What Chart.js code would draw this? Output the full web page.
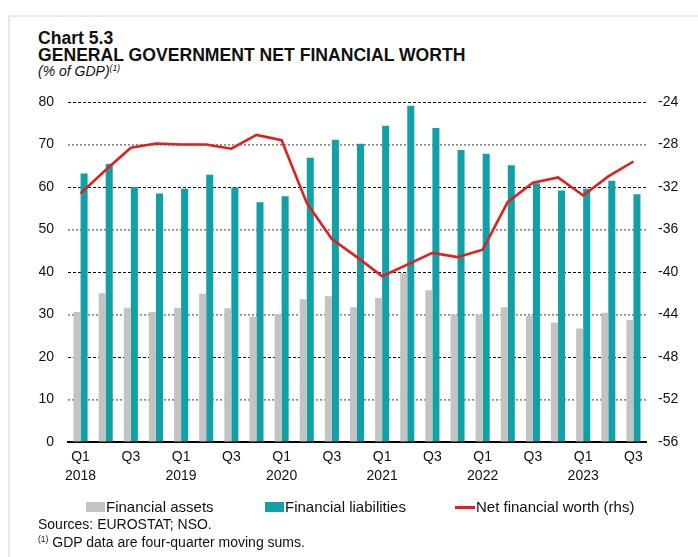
<!DOCTYPE html>
<html>
<head>
<meta charset="utf-8">
<script src="https://cdn.jsdelivr.net/npm/chart.js@4/dist/chart.umd.min.js"></script>
<style>
  html, body { margin: 0; padding: 0; background: #fff; }
  body { width: 698px; height: 557px; position: relative; overflow: hidden;
         font-family: "Liberation Sans", Arial, sans-serif; color: #111; }
  .frame { position: absolute; left: 8px; top: 15px; right: -4px; bottom: -4px;
           border-top: 2px solid #e8e8e8; border-left: 2px solid #e8e8e8; }
  #chart { position: absolute; left: 0; top: 0; }
  .title { position: absolute; left: 38px; font-weight: bold; font-size: 17.6px; line-height: 17px; }
  .sub { position: absolute; left: 38px; top: 63px; font-style: italic; font-size: 14px; }
  .sub sup, .note sup { font-size: 8.5px; vertical-align: 5px; }
  .legend { position: absolute; top: 498px; font-size: 15px; line-height: 18px; white-space: nowrap; }
  .swatch { position: absolute; }
  .src { position: absolute; left: 38px; font-size: 14px; white-space: nowrap; }
</style>
</head>
<body>
<div class="frame"></div>
<div class="title" style="top:30px">Chart 5.3</div>
<div class="title" style="top:47px">GENERAL GOVERNMENT NET FINANCIAL WORTH</div>
<div class="sub">(% of GDP)<sup>(1)</sup></div>
<canvas id="chart" width="698" height="557"></canvas>

<div class="swatch" style="left:86px;top:502px;width:19px;height:10px;background:#c3c3c3"></div>
<div class="legend" style="left:106px">Financial assets</div>
<div class="swatch" style="left:265px;top:502px;width:19px;height:10px;background:#11a0a6"></div>
<div class="legend" style="left:285px">Financial liabilities</div>
<div class="swatch" style="left:455px;top:506px;width:20px;height:3px;background:#e41e1e"></div>
<div class="legend" style="left:476px">Net financial worth (rhs)</div>

<div class="src" style="top:516px">Sources: EUROSTAT; NSO.</div>
<div class="src note" style="top:534px"><sup>(1)</sup> GDP data are four-quarter moving sums.</div>

<script>
// Quarterly observations, Q1 2018 – Q3 2023
const quarters = [
  'Q1 2018','Q2 2018','Q3 2018','Q4 2018',
  'Q1 2019','Q2 2019','Q3 2019','Q4 2019',
  'Q1 2020','Q2 2020','Q3 2020','Q4 2020',
  'Q1 2021','Q2 2021','Q3 2021','Q4 2021',
  'Q1 2022','Q2 2022','Q3 2022','Q4 2022',
  'Q1 2023','Q2 2023','Q3 2023'
];

// Financial assets, % of GDP (left axis)
const financialAssets = [
  30.6, 35.0, 31.6, 30.6,
  31.6, 34.9, 31.5, 29.5,
  30.1, 33.6, 34.3, 31.7,
  33.9, 39.7, 35.7, 30.0,
  30.0, 31.7, 29.7, 28.1,
  26.7, 30.4, 28.7
];

// Financial liabilities, % of GDP (left axis)
const financialLiabilities = [
  63.2, 65.5, 60.0, 58.5,
  59.6, 62.9, 59.9, 56.4,
  57.8, 66.9, 71.1, 70.2,
  74.4, 79.1, 73.9, 68.7,
  67.8, 65.1, 60.9, 59.2,
  59.6, 61.5, 58.3
];

// Net financial worth, % of GDP (right axis)
const netFinancialWorth = [
  -32.6, -30.4, -28.3, -27.9,
  -28.0, -28.0, -28.4, -27.1,
  -27.6, -33.5, -36.9, -38.6,
  -40.4, -39.3, -38.2, -38.6,
  -37.9, -33.4, -31.6, -31.1,
  -32.8, -31.0, -29.6
];

// Axis ranges
const leftTicks = { min: 0, max: 80, step: 10 };
const rightTicks = { min: -56, max: -24, step: 4 };

const FONT = '"Liberation Sans", Arial, sans-serif';

new Chart(document.getElementById('chart'), {
  data: {
    labels: quarters,
    datasets: [
      {
        type: 'bar', label: 'Financial assets', data: financialAssets,
        backgroundColor: '#c3c3c3', yAxisID: 'y', order: 1,
        categoryPercentage: 0.56, barPercentage: 1.0
      },
      {
        type: 'bar', label: 'Financial liabilities', data: financialLiabilities,
        backgroundColor: '#11a0a6', yAxisID: 'y', order: 1,
        categoryPercentage: 0.56, barPercentage: 1.0
      },
      {
        type: 'line', label: 'Net financial worth (rhs)', data: netFinancialWorth,
        borderColor: '#e41e1e', borderWidth: 2.6, pointRadius: 0, tension: 0,
        yAxisID: 'y1', order: 0
      }
    ]
  },
  options: {
    responsive: false,
    animation: false,
    layout: { padding: { left: 0, right: 0, top: 102, bottom: 65 } },
    plugins: { legend: { display: false }, tooltip: { enabled: false } },
    scales: {
      x: {
        offset: true,
        grid: { display: false, drawTicks: false },
        border: { display: true, color: '#000', width: 2 },
        afterFit: (s) => { s.height = 50; },
        ticks: {
          autoSkip: false, maxRotation: 0, padding: 6, color: '#111',
          font: { family: FONT, size: 14, lineHeight: 1.35 },
          callback: function (v, i) {
            const [q, yr] = quarters[i].split(' ');
            if (q === 'Q1') return [q, yr];
            if (q === 'Q3') return q;
            return '';
          }
        }
      },
      y: {
        position: 'left',
        min: leftTicks.min, max: leftTicks.max,
        afterFit: (s) => { s.width = 68; },
        ticks: { stepSize: leftTicks.step, padding: 14, color: '#111',
                 font: { family: FONT, size: 14 } },
        border: { display: false, dash: [3, 2] },
        grid: {
          drawTicks: false, lineWidth: 1,
          color: (ctx) => (ctx.tick && ctx.tick.value % 20 === 0 && ctx.tick.value !== 0) ? '#000' : 'rgba(0,0,0,0)'
        }
      },
      y1: {
        position: 'right',
        min: rightTicks.min, max: rightTicks.max,
        afterFit: (s) => { s.width = 52; },
        ticks: { stepSize: rightTicks.step, padding: 12, color: '#111',
                 font: { family: FONT, size: 14 } },
        border: { display: false, dash: [2, 2] },
        grid: {
          drawTicks: false, lineWidth: 1.7,
          color: (ctx) => (ctx.tick && Math.abs(ctx.tick.value + 24) % 8 === 4) ? '#8a8a8a' : 'rgba(0,0,0,0)'
        }
      }
    }
  }
});
</script>
</body>
</html>
